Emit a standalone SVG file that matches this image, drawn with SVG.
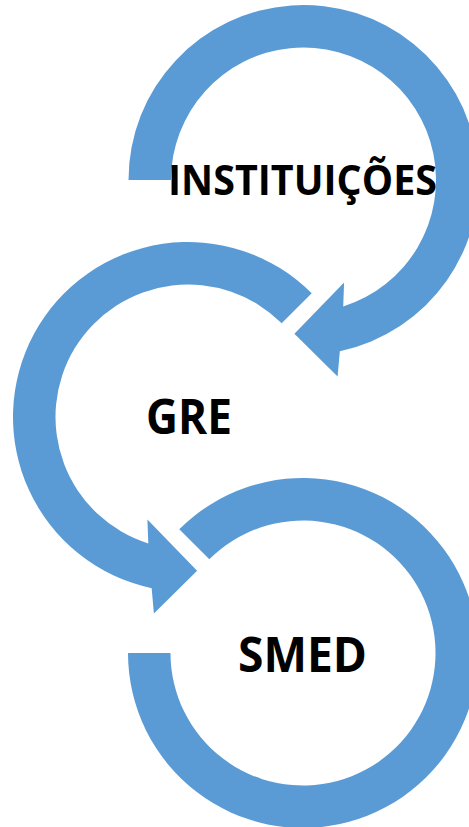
<svg xmlns="http://www.w3.org/2000/svg" width="469" height="827" viewBox="0 0 469 827">
<style>
.arc{fill:#5B9BD5;stroke:none}
.lbl{font-family:"Open Sans","Liberation Sans",sans-serif;font-weight:bold;fill:#000;text-anchor:middle}
</style>
<rect width="469" height="827" fill="#fff"/>
<g id="connectors">
<path class="arc" d="M128.5,180 A175,175 0 1 1 339.83,351.19 L337.6,376.6 L294.4,333.8 L344.1,282.6 L343.21,306.41 A132.5,132.5 0 1 0 171,180 Z"/>
<path class="arc" d="M311.74,293.26 A175,175 0 1 0 151.67,588.19 L153.9,613.6 L197.1,570.8 L147.4,519.6 L148.29,543.41 A132.5,132.5 0 1 1 281.69,323.31 Z"/>
<path class="arc" d="M179.26,529.26 A175,175 0 1 1 128,653 L170.5,653 A132.5,132.5 0 1 0 209.31,559.31 Z"/>
</g>
<g id="node-instituicoes">
<text class="lbl" x="302.5" y="195" font-size="42" textLength="269" lengthAdjust="spacingAndGlyphs">INSTITUIÇÕES</text>
</g>
<g id="node-gre">
<text class="lbl" x="189" y="434" font-size="49" textLength="86" lengthAdjust="spacingAndGlyphs">GRE</text>
</g>
<g id="node-smed">
<text class="lbl" x="302.5" y="672" font-size="48" textLength="129" lengthAdjust="spacingAndGlyphs">SMED</text>
</g>
</svg>
